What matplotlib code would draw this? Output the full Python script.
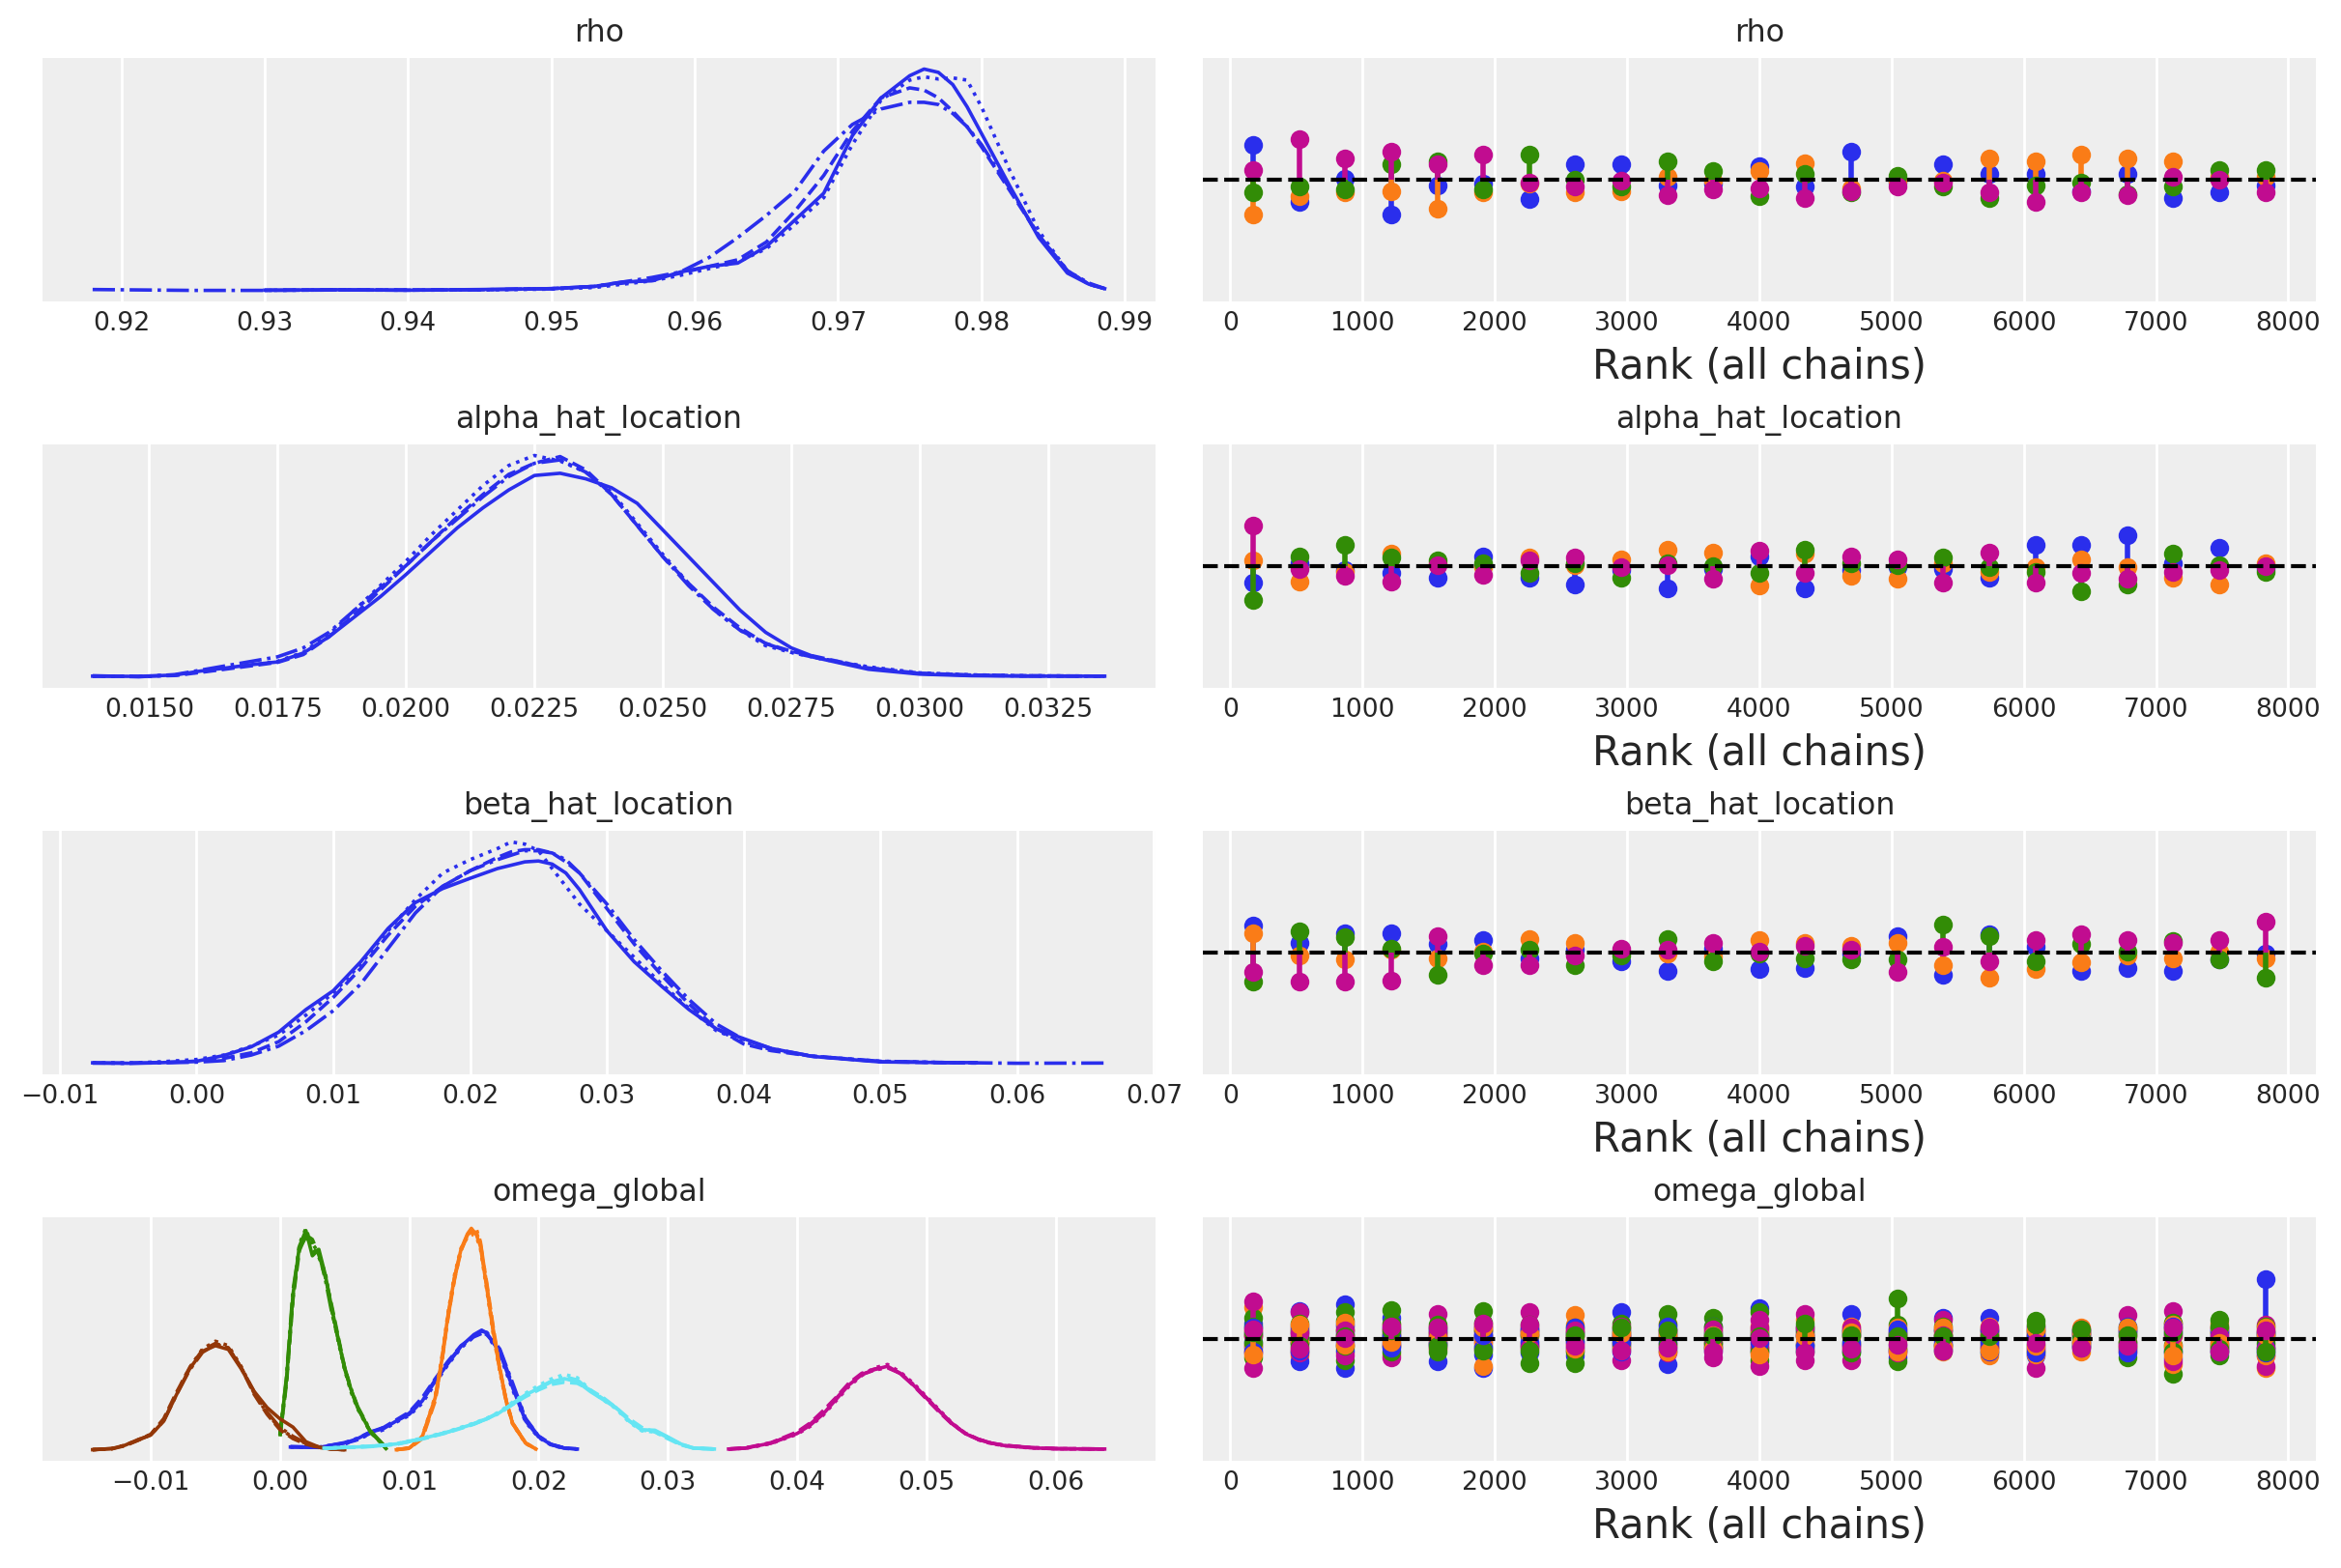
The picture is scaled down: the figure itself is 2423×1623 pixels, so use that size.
import numpy as np
import matplotlib

matplotlib.use("Agg")
import matplotlib.pyplot as plt

NAN = np.nan

CHAIN_STYLES = ["-", "--", ":", "-."]
CHAIN_COLORS = ["#2a2eec", "#fa7c17", "#328c06", "#c10c90"]
DIM_COLORS = ["#2a2eec", "#fa7c17", "#328c06", "#c10c90", "#933708", "#65e5f3"]

VAR_NAMES = ["rho", "alpha_hat_location", "beta_hat_location", "omega_global"]
N_DRAWS = 2000  # per chain
N_CHAINS = 4
N_BINS = 23

# ---------------- density curves ----------------
RHO_X = [0.918, 0.925, 0.930, 0.935, 0.940, 0.945, 0.950, 0.953, 0.955, 0.957,
         0.959, 0.961, 0.963, 0.965, 0.967, 0.969, 0.971, 0.973, 0.975, 0.976,
         0.977, 0.978, 0.979, 0.980, 0.982, 0.984, 0.986, 0.9875, 0.9886]
RHO_DENS = [
    [NAN, NAN, 0.003, 0.005, 0.003, 0.006, 0.010, 0.020, 0.040, 0.045, 0.085, 0.110, 0.125, 0.200, 0.320,
     0.440, 0.700, 0.870, 0.970, 1.000, 0.985, 0.930, 0.830, 0.710, 0.470, 0.240, 0.080, 0.030, 0.010],
    [NAN, NAN, 0.003, 0.004, 0.004, 0.005, 0.010, 0.020, 0.035, 0.050, 0.080, 0.110, 0.140, 0.220, 0.360,
     0.520, 0.720, 0.870, 0.915, 0.905, 0.870, 0.810, 0.740, 0.650, 0.450, 0.250, 0.090, 0.030, 0.010],
    [NAN, NAN, 0.002, 0.004, 0.003, 0.004, 0.008, 0.015, 0.030, 0.045, 0.070, 0.100, 0.130, 0.190, 0.300,
     0.420, 0.660, 0.860, 0.950, 0.965, 0.955, 0.960, 0.950, 0.830, 0.540, 0.270, 0.090, 0.030, 0.010],
    [0.006, 0.002, 0.002, 0.004, 0.003, 0.005, 0.010, 0.020, 0.040, 0.060, 0.085, 0.150, 0.240, 0.340, 0.450,
     0.630, 0.750, 0.820, 0.850, 0.850, 0.840, 0.800, 0.740, 0.660, 0.460, 0.250, 0.090, 0.035, 0.010],
]

ALPHA_X = [0.0139, 0.0148, 0.0155, 0.016, 0.0165, 0.017, 0.0175, 0.018, 0.0185, 0.019, 0.0195,
           0.020, 0.0205, 0.021, 0.0215, 0.022, 0.0225, 0.023, 0.0235, 0.024, 0.0245, 0.025,
           0.0255, 0.026, 0.0265, 0.027, 0.0275, 0.028, 0.029, 0.030, 0.031, 0.032, 0.0336]
ALPHA_DENS = [
    [0.003, 0.002, 0.008, 0.026, 0.040, 0.055, 0.067, 0.107, 0.180, 0.270, 0.360, 0.460, 0.565, 0.670,
     0.760, 0.840, 0.905, 0.915, 0.890, 0.850, 0.780, 0.660, 0.540, 0.420, 0.300, 0.200, 0.130, 0.085,
     0.034, 0.012, 0.005, 0.003, 0.003],
    [0.003, 0.002, 0.006, 0.020, 0.035, 0.050, 0.065, 0.100, 0.180, 0.280, 0.390, 0.500, 0.610, 0.720,
     0.820, 0.910, 0.960, 0.990, 0.930, 0.820, 0.680, 0.540, 0.420, 0.310, 0.220, 0.150, 0.115, 0.090,
     0.040, 0.016, 0.008, 0.005, 0.003],
    [0.003, 0.002, 0.007, 0.022, 0.038, 0.052, 0.070, 0.110, 0.190, 0.300, 0.410, 0.520, 0.640, 0.750,
     0.860, 0.950, 0.995, 0.970, 0.920, 0.830, 0.690, 0.550, 0.420, 0.300, 0.210, 0.140, 0.110, 0.085,
     0.045, 0.018, 0.009, 0.005, 0.003],
    [0.005, 0.000, 0.010, 0.030, 0.050, 0.070, 0.090, 0.130, 0.200, 0.300, 0.400, 0.500, 0.610, 0.710,
     0.810, 0.900, 0.960, 0.975, 0.920, 0.820, 0.680, 0.540, 0.410, 0.300, 0.210, 0.150, 0.110, 0.085,
     0.040, 0.015, 0.007, 0.004, 0.003],
]

BETA_X = [-0.0076, -0.005, -0.0025, 0.000, 0.002, 0.004, 0.006, 0.008, 0.010, 0.012, 0.014, 0.016,
          0.018, 0.020, 0.022, 0.023, 0.024, 0.025, 0.026, 0.027, 0.028, 0.030, 0.032, 0.034, 0.036,
          0.038, 0.040, 0.042, 0.045, 0.050, 0.055, 0.057, 0.060, 0.0664]
BETA_DENS = [
    [0.005, 0.003, 0.006, 0.012, 0.038, 0.077, 0.143, 0.245, 0.330, 0.460, 0.610, 0.727, 0.790, 0.836,
     0.880, 0.895, 0.910, 0.914, 0.900, 0.860, 0.785, 0.600, 0.460, 0.350, 0.245, 0.158, 0.114, 0.070,
     0.034, 0.009, 0.006, 0.006, NAN, NAN],
    [0.004, 0.004, 0.007, 0.012, 0.025, 0.050, 0.100, 0.190, 0.300, 0.430, 0.580, 0.710, 0.800, 0.870,
     0.930, 0.955, 0.965, 0.965, 0.950, 0.910, 0.860, 0.700, 0.540, 0.400, 0.270, 0.160, 0.090, 0.060,
     0.035, 0.010, 0.005, 0.004, NAN, NAN],
    [0.005, 0.004, 0.010, 0.020, 0.040, 0.080, 0.130, 0.220, 0.320, 0.450, 0.600, 0.740, 0.860, 0.920,
     0.970, 1.000, 0.990, 0.960, 0.880, 0.800, 0.720, 0.600, 0.480, 0.360, 0.250, 0.150, 0.100, 0.065,
     0.035, 0.012, 0.006, 0.005, NAN, NAN],
    [0.004, 0.003, 0.005, 0.008, 0.015, 0.040, 0.080, 0.150, 0.240, 0.360, 0.520, 0.680, 0.800, 0.870,
     0.920, 0.940, 0.960, 0.960, 0.950, 0.920, 0.860, 0.720, 0.560, 0.420, 0.290, 0.180, 0.110, 0.070,
     0.035, 0.012, 0.006, 0.005, 0.003, 0.004],
]

# omega_global has six components, each with its own grid and four chains
OMEGA0_X = [0.0008, 0.003, 0.005, 0.006, 0.007, 0.008, 0.009, 0.010, 0.011, 0.012, 0.013,
            0.014, 0.015, 0.0156, 0.016, 0.017, 0.018, 0.019, 0.020, 0.021, 0.022, 0.023]
OMEGA0_DENS = [
    [0.012, 0.010, 0.030, 0.050, 0.080, 0.095, 0.130, 0.160, 0.220, 0.310, 0.390, 0.467, 0.520, 0.540, 0.526, 0.440, 0.280, 0.130, 0.058, 0.022, 0.007, 0.003],
    [0.014, 0.012, 0.028, 0.045, 0.075, 0.100, 0.135, 0.170, 0.235, 0.320, 0.400, 0.470, 0.510, 0.525, 0.520, 0.450, 0.290, 0.140, 0.062, 0.024, 0.008, 0.003],
    [0.012, 0.011, 0.025, 0.048, 0.070, 0.090, 0.125, 0.155, 0.210, 0.300, 0.385, 0.460, 0.510, 0.530, 0.520, 0.430, 0.270, 0.125, 0.055, 0.020, 0.006, 0.003],
    [0.013, 0.010, 0.032, 0.052, 0.080, 0.100, 0.130, 0.165, 0.225, 0.315, 0.395, 0.465, 0.515, 0.535, 0.530, 0.455, 0.300, 0.140, 0.060, 0.023, 0.007, 0.003],
]
OMEGA1_X = [0.009, 0.010, 0.011, 0.012, 0.0125, 0.013, 0.0135, 0.014, 0.0145, 0.0148,
            0.0152, 0.0155, 0.016, 0.0165, 0.017, 0.0175, 0.018, 0.019, 0.0198]
OMEGA1_DENS = [
    [0.000, 0.007, 0.058, 0.234, 0.400, 0.610, 0.780, 0.905, 0.975, 1.000, 0.970, 0.920, 0.730, 0.530, 0.365, 0.220, 0.117, 0.030, 0.003],
    [0.000, 0.006, 0.050, 0.220, 0.390, 0.600, 0.770, 0.900, 0.970, 0.985, 0.980, 0.930, 0.750, 0.550, 0.370, 0.220, 0.120, 0.030, 0.003],
    [0.000, 0.007, 0.060, 0.240, 0.410, 0.620, 0.790, 0.910, 0.960, 0.975, 0.960, 0.910, 0.720, 0.520, 0.355, 0.215, 0.115, 0.028, 0.003],
    [0.000, 0.008, 0.055, 0.230, 0.395, 0.600, 0.775, 0.900, 0.970, 0.990, 0.995, 0.940, 0.740, 0.540, 0.360, 0.220, 0.118, 0.030, 0.003],
]
OMEGA2_X = [0.0000, 0.0005, 0.001, 0.0015, 0.002, 0.0025, 0.003, 0.0035,
            0.004, 0.0045, 0.005, 0.0055, 0.006, 0.007, 0.008, 0.0082]
OMEGA2_DENS = [
    [0.073, 0.320, 0.700, 0.920, 0.990, 0.876, 0.905, 0.790, 0.640, 0.500, 0.365, 0.270, 0.190, 0.080, 0.020, 0.005],
    [0.060, 0.300, 0.680, 0.900, 0.970, 0.950, 0.880, 0.780, 0.650, 0.510, 0.370, 0.270, 0.190, 0.080, 0.020, 0.005],
    [0.070, 0.310, 0.690, 0.930, 1.000, 0.910, 0.870, 0.800, 0.630, 0.490, 0.360, 0.260, 0.185, 0.078, 0.020, 0.005],
    [0.065, 0.330, 0.720, 0.910, 0.960, 0.930, 0.890, 0.770, 0.620, 0.500, 0.370, 0.275, 0.195, 0.085, 0.022, 0.005],
]
OMEGA3_X = [0.0347, 0.036, 0.038, 0.040, 0.041, 0.042, 0.043, 0.044, 0.045, 0.046, 0.047, 0.048,
            0.049, 0.050, 0.051, 0.052, 0.053, 0.054, 0.055, 0.056, 0.058, 0.060, 0.0638]
OMEGA3_DENS = [
    [0.003, 0.007, 0.030, 0.073, 0.110, 0.160, 0.226, 0.292, 0.339, 0.362, 0.377, 0.343, 0.292, 0.234, 0.175, 0.117, 0.073, 0.047, 0.030, 0.019, 0.009, 0.004, 0.003],
    [0.003, 0.008, 0.032, 0.080, 0.120, 0.175, 0.235, 0.300, 0.345, 0.365, 0.372, 0.345, 0.290, 0.230, 0.170, 0.115, 0.075, 0.048, 0.030, 0.020, 0.010, 0.005, 0.003],
    [0.003, 0.006, 0.028, 0.070, 0.105, 0.155, 0.220, 0.285, 0.335, 0.370, 0.385, 0.350, 0.300, 0.240, 0.180, 0.120, 0.075, 0.045, 0.028, 0.018, 0.008, 0.004, 0.003],
    [0.003, 0.007, 0.030, 0.075, 0.115, 0.165, 0.230, 0.295, 0.340, 0.360, 0.370, 0.345, 0.295, 0.235, 0.175, 0.118, 0.074, 0.047, 0.030, 0.020, 0.010, 0.005, 0.003],
]
OMEGA4_X = [-0.0145, -0.013, -0.012, -0.011, -0.010, -0.009, -0.008, -0.007, -0.006, -0.005,
            -0.004, -0.003, -0.002, -0.001, 0.000, 0.001, 0.002, 0.003, 0.004, 0.005]
OMEGA4_DENS = [
    [0.000, 0.005, 0.020, 0.045, 0.066, 0.130, 0.250, 0.365, 0.445, 0.470, 0.453, 0.365, 0.263, 0.190, 0.139, 0.102, 0.036, 0.012, 0.003, 0.000],
    [0.000, 0.004, 0.018, 0.042, 0.070, 0.140, 0.260, 0.370, 0.450, 0.480, 0.460, 0.370, 0.250, 0.160, 0.090, 0.050, 0.025, 0.010, 0.003, 0.000],
    [0.000, 0.005, 0.020, 0.044, 0.068, 0.135, 0.255, 0.370, 0.455, 0.490, 0.470, 0.375, 0.255, 0.165, 0.095, 0.055, 0.028, 0.010, 0.003, 0.000],
    [0.000, 0.005, 0.019, 0.043, 0.067, 0.130, 0.250, 0.360, 0.440, 0.475, 0.460, 0.370, 0.260, 0.170, 0.100, 0.060, 0.030, 0.012, 0.003, 0.000],
]
OMEGA5_X = [0.0034, 0.005, 0.007, 0.009, 0.011, 0.013, 0.015, 0.016, 0.017, 0.018, 0.019, 0.020, 0.021,
            0.022, 0.023, 0.024, 0.025, 0.026, 0.027, 0.028, 0.029, 0.030, 0.031, 0.032, 0.0336]
OMEGA5_DENS = [
    [0.007, 0.010, 0.015, 0.026, 0.050, 0.080, 0.117, 0.139, 0.168, 0.210, 0.248, 0.277, 0.307, 0.321, 0.307, 0.263, 0.226, 0.190, 0.131, 0.090, 0.088, 0.058, 0.026, 0.007, 0.003],
    [0.006, 0.010, 0.014, 0.024, 0.048, 0.078, 0.115, 0.140, 0.170, 0.205, 0.240, 0.270, 0.295, 0.305, 0.300, 0.270, 0.235, 0.190, 0.140, 0.100, 0.080, 0.050, 0.022, 0.007, 0.003],
    [0.007, 0.011, 0.016, 0.027, 0.052, 0.082, 0.120, 0.142, 0.172, 0.215, 0.255, 0.290, 0.320, 0.340, 0.325, 0.270, 0.225, 0.185, 0.125, 0.085, 0.080, 0.052, 0.024, 0.007, 0.003],
    [0.006, 0.010, 0.015, 0.025, 0.050, 0.080, 0.118, 0.140, 0.165, 0.205, 0.245, 0.280, 0.310, 0.330, 0.315, 0.268, 0.230, 0.188, 0.130, 0.088, 0.083, 0.055, 0.025, 0.007, 0.003],
]

# ---------------- rank counts: deviation from the uniform count, one list per chain ----------------
RHO_RANK = [
    [25, -16, 1, -25, -4, -3, -14, 11, 11, -4, -3, 10, -5, 20, -2, 11, 4, 4, -8, 4, -13, -9, -4],
    [-25, -12, -9, -8, -21, -9, -3, -9, -8, 2, -1, 6, 12, -6, -1, -1, 15, 13, 18, 15, 13, 2, 2],
    [-9, -5, -7, 11, 13, -7, 18, 0, -5, 13, 6, -12, 4, -9, 3, -5, -13, -4, -2, -10, -5, 7, 7],
    [7, 29, 15, 20, 11, 18, -2, -5, -1, -11, -7, -6, -13, -8, -5, -2, -9, -16, -9, -11, 2, 0, -9],
]
ALPHA_RANK = [
    [-12, 2, -3, -5, -8, 7, -8, -13, -3, -16, -2, 7, -16, -3, -1, -2, -8, 15, 15, 22, 2, 13, -2],
    [4, -11, -4, 9, 2, -1, 6, 1, 5, 12, 10, -14, 9, -7, -9, 2, -4, -1, 5, -1, -8, -13, 2],
    [-24, 7, 15, 6, 4, 2, -5, 2, -8, 2, 0, -5, 12, 2, 1, 6, -1, -4, -18, -13, 9, 1, -4],
    [29, -2, -7, -11, 1, -6, 4, 6, -1, 1, -9, 11, -5, 7, 5, -12, 10, -12, -5, -9, -4, -3, 0],
]
BETA_RANK = [
    [19, 7, 14, 14, 6, 9, -4, 2, -6, -13, 3, -12, -11, -1, 12, -16, 13, 4, -13, -11, -13, -5, -1],
    [14, -2, -5, 2, -4, 1, 10, 7, 1, -1, -3, 9, 7, 5, 7, -9, -18, -12, -7, -2, -4, 1, -4],
    [-21, 15, 11, 3, -16, -1, 2, -9, -2, 10, -6, -1, -4, -5, -5, 20, 12, -6, 6, 1, 8, -5, -18],
    [-14, -21, -21, -20, 12, -9, -9, -2, 3, 2, 7, 1, 5, 2, -14, 4, -6, 9, 13, 9, 7, 9, 22],
]
# omega_global: one row per rank bin, six components per row
OMEGA_RANK_C0 = [
    [11, 4, -2, -6, 8, -9], [20, -16, 5, -3, 9, -8], [25, -21, 4, -8, 10, -2], [15, 5, -3, 8, -6, 2],
    [-16, 2, 6, -4, 8, -3], [-11, -21, 4, 8, -6, 3], [-10, 3, -5, 6, -2, 8], [5, -12, 3, -6, 8, -2],
    [19, -5, 3, -9, 7, -2], [-18, 4, -6, 7, -3, 9], [-3, 5, -8, 9, -6, 2], [22, -4, 6, -8, 3, -2],
    [-4, 6, -8, 3, 9, -5], [18, -5, 3, -9, 6, -3], [-13, 3, -8, 5, -4, 7], [15, -4, 6, -8, 2, -3],
    [15, -5, 3, -9, 6, -2], [-12, 4, -6, 8, -10, 2], [4, -3, 6, -5, 2, -6], [4, -7, 9, -3, 6, -10],
    [-8, 6, -14, 4, -10, 9], [-5, 7, -9, 3, 6, -8], [43, 5, -8, 3, -6, -10],
]
OMEGA_RANK_C1 = [
    [23, -8, 3, -4, 6, -11], [-12, 4, -6, 8, -2, 10], [-6, 7, -10, 3, 12, -4], [-11, 4, 10, -5, 7, -2],
    [5, -7, 3, 9, -2, 1], [10, -19, 6, -3, 2, 8], [8, -4, 5, 2, -7, 4], [17, 10, -4, 6, 2, -7],
    [6, -3, 8, 2, -6, 4], [11, -5, 6, 2, -9, 4], [6, -4, 8, -2, 3, -7], [9, -9, 4, -3, 7, -11],
    [14, -7, 4, 8, -3, 2], [9, -4, 7, -6, 2, 5], [4, -6, 8, -3, 2, -9], [-9, 5, -6, 3, 8, -5],
    [9, -12, -6, 4, 2, -8], [-8, 5, -11, 3, -5, 7], [8, -9, 3, -6, 5, -3], [-5, 7, -9, 3, -2, 8],
    [2, -18, 7, -5, 10, -12], [11, -9, 4, -6, 8, -3], [-21, 6, -4, 8, -12, 3],
]
OMEGA_RANK_C2 = [
    [15, 2, -13, 9, -3, 5], [-3, 6, 11, -9, 2, -5], [19, 13, -15, 6, -5, 2], [21, -5, 3, -9, 11, 6],
    [-3, 7, 4, -9, 10, -5], [20, -5, 2, 6, -8, 12], [-5, -17, 6, 3, 10, -8], [-1, -17, 4, 8, -9, 3],
    [11, 2, -7, 5, -3, 8], [18, -8, 3, 10, -4, 6], [15, -6, 4, 9, -3, 2], [19, -15, -6, 5, -9, 2],
    [5, -9, 2, -4, 7, 11], [-8, 4, -2, 6, -10, 3], [29, 10, -16, 4, -7, 2], [6, -7, 3, 9, -4, 2],
    [-10, 5, -3, 7, -6, 2], [13, -4, 6, -9, 2, 10], [6, -2, 4, -5, 1, 7], [-13, 5, -6, 8, -2, 3],
    [-25, 8, -4, 12, -9, 5], [14, -12, 5, -4, 9, -7], [3, -6, 9, -3, 5, -9],
]
OMEGA_RANK_C3 = [
    [27, -5, -21, 3, -10, 7], [19, 7, -2, -10, 4, -7], [3, -4, 9, -12, 6, 1], [3, -13, 7, -4, 1, 9],
    [18, -6, 2, 5, -4, 8], [6, -2, 9, -7, 3, 11], [19, 4, -3, 7, -6, 10], [-3, 5, -8, 2, 6, -5],
    [-15, 4, -4, 9, 2, -8], [2, -10, 7, -3, 5, -6], [-13, 3, -5, 7, 1, -9], [14, 3, -19, -6, 8, 1],
    [18, -15, -6, 3, 8, -10], [2, -15, 5, -4, 8, -7], [-8, 3, 6, -10, 1, -4], [14, -1, 7, -5, 3, -8],
    [-1, 6, -4, 3, -7, 8], [6, -21, 3, -7, 9, -3], [5, -4, 3, -2, 7, -6], [17, -4, 6, -8, 2, -5],
    [20, 11, -6, 3, -16, 8], [5, -3, 8, -6, 2, -9], [10, -12, -19, 4, -7, 6],
]

# ---------------- tick labels ----------------
RHO_TICKS = [0.92, 0.93, 0.94, 0.95, 0.96, 0.97, 0.98, 0.99]
RHO_LABELS = ["0.92", "0.93", "0.94", "0.95", "0.96", "0.97", "0.98", "0.99"]
ALPHA_TICKS = [0.015, 0.0175, 0.02, 0.0225, 0.025, 0.0275, 0.03, 0.0325]
ALPHA_LABELS = ["0.0150", "0.0175", "0.0200", "0.0225", "0.0250", "0.0275", "0.0300", "0.0325"]
BETA_TICKS = [-0.01, 0.0, 0.01, 0.02, 0.03, 0.04, 0.05, 0.06, 0.07]
BETA_LABELS = ["\u22120.01", "0.00", "0.01", "0.02", "0.03", "0.04", "0.05", "0.06", "0.07"]
OMEGA_TICKS = [-0.01, 0.0, 0.01, 0.02, 0.03, 0.04, 0.05, 0.06]
OMEGA_LABELS = ["\u22120.01", "0.00", "0.01", "0.02", "0.03", "0.04", "0.05", "0.06"]
RANK_TICKS = [0, 1000, 2000, 3000, 4000, 5000, 6000, 7000, 8000]
RANK_LABELS = ["0", "1000", "2000", "3000", "4000", "5000", "6000", "7000", "8000"]

TEXT_COLOR = "#262626"


def style_axis(ax):
    ax.set_facecolor("#eeeeee")
    for spine in ax.spines.values():
        spine.set_visible(False)
    ax.grid(True, axis="x", color="white", linewidth=1.0)
    ax.set_axisbelow(True)
    ax.set_yticks([])
    ax.tick_params(axis="x", length=0, labelsize=9.6, labelcolor=TEXT_COLOR, pad=3.5)


def plot_density(ax, x, chains, color):
    for dens, ls in zip(chains, CHAIN_STYLES):
        ax.plot(x, dens, color=color, linestyle=ls, linewidth=1.3)


def plot_rank(ax, chain_devs):
    # chain_devs: list over chains of arrays (n_components, n_bins)
    total = N_DRAWS * N_CHAINS
    edges = np.linspace(0, total, N_BINS + 1)
    centers = (edges[1:] + edges[:-1]) / 2
    ref = N_DRAWS / N_BINS
    n_comp = np.asarray(chain_devs[0]).shape[0]
    for comp in range(n_comp):
        for idx, devs in enumerate(chain_devs):
            counts = ref + np.asarray(devs)[comp]
            ax.vlines(centers, ref, counts, colors=CHAIN_COLORS[idx], linewidth=2.0)
            ax.plot(centers, counts, "o", color=CHAIN_COLORS[idx], markersize=7, markeredgewidth=0)
    ax.axhline(ref, color="k", linestyle="--", linewidth=1.5)
    ax.set_ylim(0, 2 * ref)
    ax.set_xticks(RANK_TICKS, RANK_LABELS)
    ax.set_xlabel("Rank (all chains)", fontsize=15, color=TEXT_COLOR)


def main():
    fig, axes = plt.subplots(4, 2, figsize=(12.115, 8.115), dpi=200)
    fig.subplots_adjust(left=43.5 / 2423, right=2397 / 2423, top=1 - 60 / 1623,
                        bottom=1 - 1512 / 1623, wspace=0.0425, hspace=0.587)
    for ax in axes.ravel():
        style_axis(ax)

    plot_density(axes[0, 0], RHO_X, RHO_DENS, DIM_COLORS[0])
    axes[0, 0].set_xticks(RHO_TICKS, RHO_LABELS)
    plot_density(axes[1, 0], ALPHA_X, ALPHA_DENS, DIM_COLORS[0])
    axes[1, 0].set_xticks(ALPHA_TICKS, ALPHA_LABELS)
    plot_density(axes[2, 0], BETA_X, BETA_DENS, DIM_COLORS[0])
    axes[2, 0].set_xticks(BETA_TICKS, BETA_LABELS)

    omega_parts = [(OMEGA0_X, OMEGA0_DENS), (OMEGA1_X, OMEGA1_DENS), (OMEGA2_X, OMEGA2_DENS),
                   (OMEGA3_X, OMEGA3_DENS), (OMEGA4_X, OMEGA4_DENS), (OMEGA5_X, OMEGA5_DENS)]
    for color, (x, dens) in zip(DIM_COLORS, omega_parts):
        plot_density(axes[3, 0], x, dens, color)
    axes[3, 0].set_xticks(OMEGA_TICKS, OMEGA_LABELS)

    plot_rank(axes[0, 1], [np.array([c]) for c in RHO_RANK])
    plot_rank(axes[1, 1], [np.array([c]) for c in ALPHA_RANK])
    plot_rank(axes[2, 1], [np.array([c]) for c in BETA_RANK])
    omega_rank = [np.array(c).T for c in (OMEGA_RANK_C0, OMEGA_RANK_C1, OMEGA_RANK_C2, OMEGA_RANK_C3)]
    plot_rank(axes[3, 1], omega_rank)

    for row, name in enumerate(VAR_NAMES):
        for col in range(2):
            axes[row, col].set_title(name, fontsize=11.4, color=TEXT_COLOR)

    fig.savefig("out.png", dpi=200)
    plt.close(fig)


if __name__ == "__main__":
    main()
